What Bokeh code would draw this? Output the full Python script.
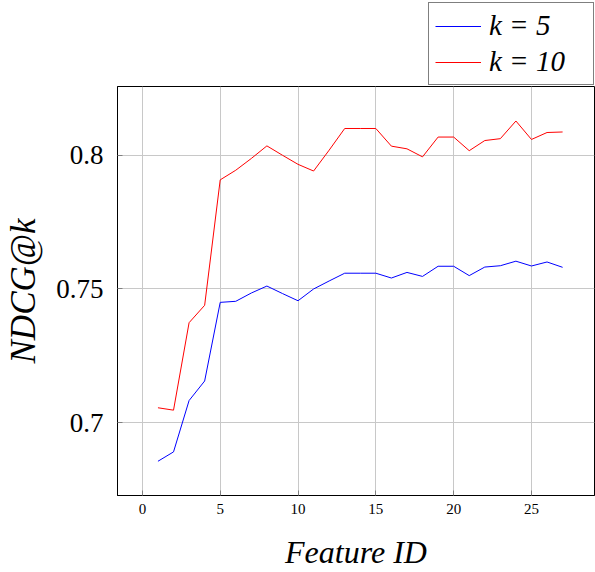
from bokeh.plotting import figure
from bokeh.layouts import column
from bokeh.models import FixedTicker, Legend, LegendItem, Range1d
from bokeh.embed import file_html
from bokeh.resources import INLINE

feature_id = list(range(1, 28))
ndcg_k5 = [0.6856, 0.6891, 0.7083, 0.7156, 0.7450, 0.7454, 0.7485, 0.7511, 0.7483,
           0.7456, 0.7500, 0.7530, 0.7559, 0.7559, 0.7559, 0.7541, 0.7562, 0.7547,
           0.7585, 0.7585, 0.7550, 0.7582, 0.7587, 0.7604, 0.7586, 0.7601, 0.7581]
ndcg_k10 = [0.7056, 0.7047, 0.7374, 0.7439, 0.7908, 0.7944, 0.7988, 0.8035, 0.8000,
            0.7966, 0.7941, 0.8019, 0.8100, 0.8100, 0.8100, 0.8034, 0.8024, 0.7994,
            0.8068, 0.8068, 0.8017, 0.8055, 0.8062, 0.8128, 0.8059, 0.8085, 0.8087]
x_ticks = [0, 5, 10, 15, 20, 25]
y_ticks = [0.7, 0.75, 0.8]
series_labels = ["k = 5", "k = 10"]
series_colors = ["#0000ff", "#ff0000"]
x_label = "Feature ID"
y_label = "NDCG@k"

SERIF = "Liberation Serif"

# ---- legend strip above the plot frame (its frame aligns with the main frame).
# Its ranges lie outside the data, so the series drawn here only feed the legend.
top = figure(width=595, height=85, output_backend="svg", toolbar_location=None,
             x_range=Range1d(-20, -10), y_range=Range1d(0, 1),
             x_axis_type=None, y_axis_type=None,
             min_border_left=0, min_border_right=0, min_border_top=0,
             min_border_bottom=0, outline_line_color=None,
             background_fill_color="white", border_fill_color="white")
top.xgrid.visible = False
top.ygrid.visible = False
leg_r5 = top.line(feature_id, ndcg_k5, line_color=series_colors[0], line_width=1)
leg_r10 = top.line(feature_id, ndcg_k10, line_color=series_colors[1], line_width=1)

legend = Legend(items=[LegendItem(label=series_labels[0], renderers=[leg_r5]),
                       LegendItem(label=series_labels[1], renderers=[leg_r10])],
                location=(311, 0))
legend.label_text_font = SERIF
legend.label_text_font_style = "italic"
legend.label_text_font_size = "29px"
legend.label_text_color = "black"
legend.glyph_width = 46
legend.glyph_height = 30
legend.label_height = 30
legend.label_width = 98
legend.label_standoff = 8
legend.spacing = 3
legend.padding = 6
legend.margin = 0
legend.border_line_color = "black"
legend.border_line_width = 1
legend.background_fill_alpha = 1
top.add_layout(legend, "center")

# ---- main plot ----
p = figure(width=595, height=487, output_backend="svg", toolbar_location=None,
           x_range=Range1d(-1.6, 29.05), y_range=Range1d(0.6728, 0.8257),
           min_border_left=117, min_border_right=1, min_border_top=1,
           min_border_bottom=76, background_fill_color="white",
           border_fill_color="white")

p.outline_line_color = "black"
p.outline_line_width = 1

p.line(feature_id, ndcg_k5, line_color=series_colors[0], line_width=1)
p.line(feature_id, ndcg_k10, line_color=series_colors[1], line_width=1)

p.xaxis.ticker = FixedTicker(ticks=x_ticks)
p.yaxis.ticker = FixedTicker(ticks=y_ticks)
p.yaxis.major_label_overrides = {0.7: "0.7", 0.75: "0.75", 0.8: "0.8"}

for ax in (p.xaxis[0], p.yaxis[0]):
    ax.axis_line_color = "black"
    ax.major_tick_line_color = "#808080"
    ax.major_tick_in = 5
    ax.major_tick_out = 0
    ax.minor_tick_line_color = None
    ax.major_label_text_font = SERIF
    ax.axis_label_text_font = SERIF
    ax.axis_label_text_font_style = "italic"
    ax.axis_label_text_color = "black"
    ax.major_label_text_color = "black"

p.xaxis.axis_label = x_label
p.yaxis.axis_label = y_label
p.xaxis.axis_label_text_font_size = "32px"
p.yaxis.axis_label_text_font_size = "35px"
p.xaxis.major_label_text_font_size = "15px"
p.yaxis.major_label_text_font_size = "27px"
p.xaxis.major_label_standoff = 8
p.yaxis.major_label_standoff = 14
p.xaxis.axis_label_standoff = 17
p.yaxis.axis_label_standoff = 10

p.xgrid.ticker = FixedTicker(ticks=x_ticks)
p.ygrid.ticker = FixedTicker(ticks=y_ticks)
for g in (p.xgrid[0], p.ygrid[0]):
    g.grid_line_color = "#c8c8c8"
    g.grid_line_width = 1

layout = column(top, p, spacing=0)
open("out.html", "w").write(file_html(layout, INLINE))
